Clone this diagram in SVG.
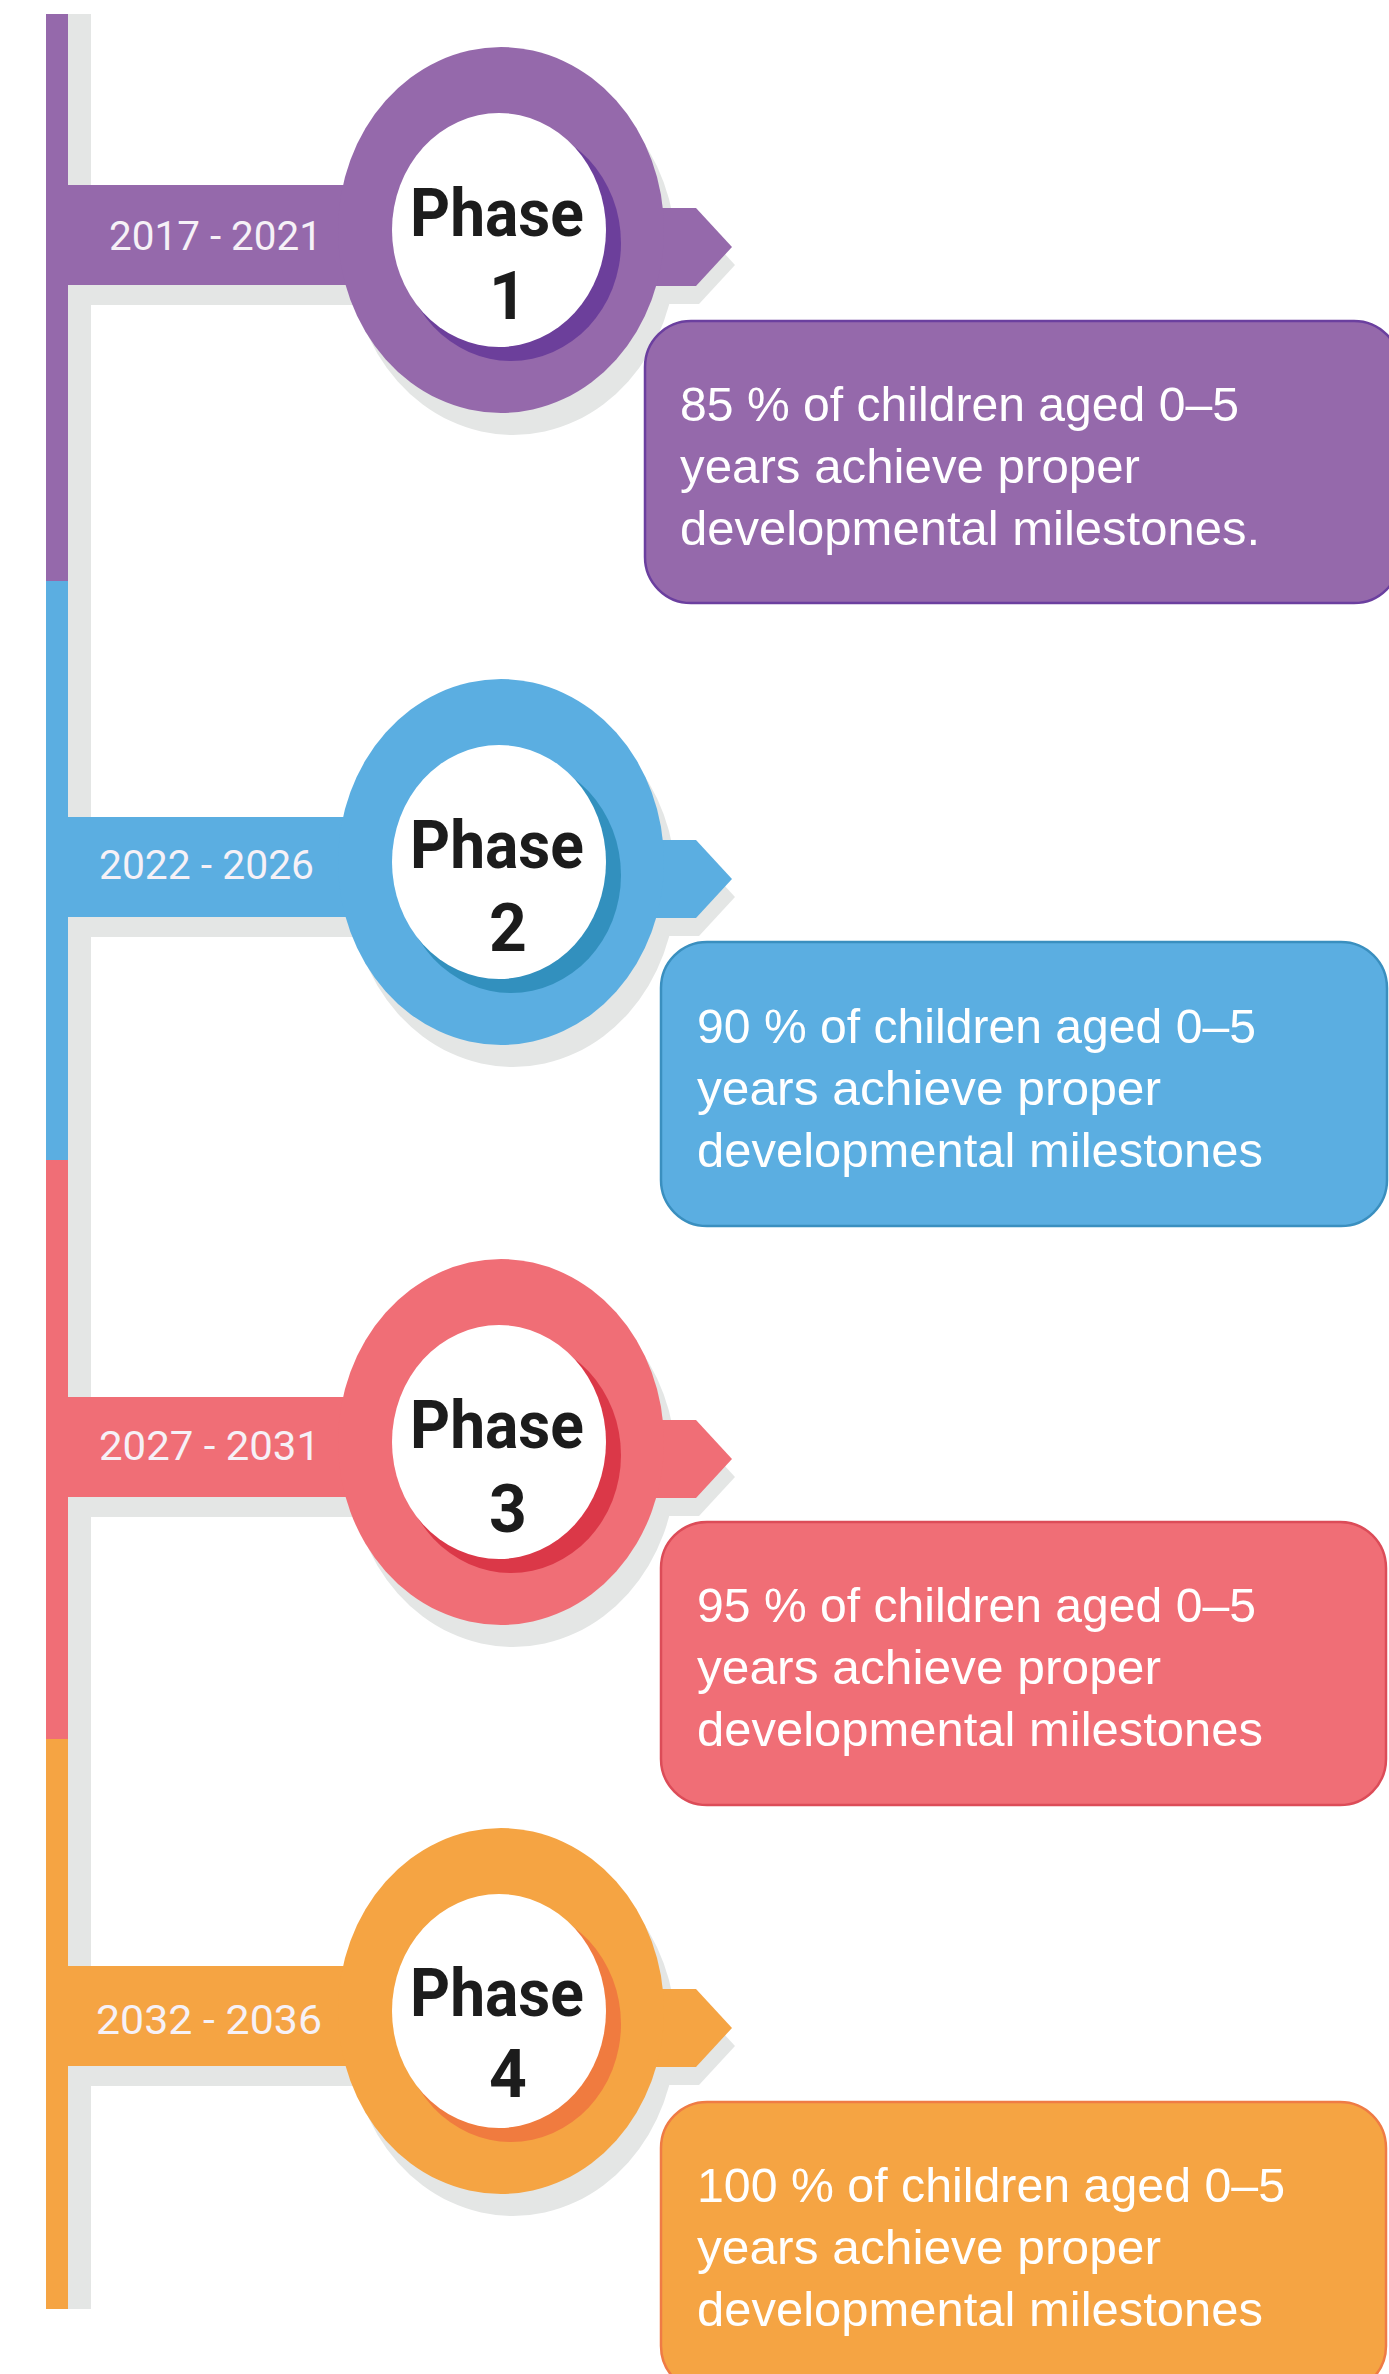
<svg xmlns="http://www.w3.org/2000/svg" width="1389" height="2374" viewBox="0 0 1389 2374">
<defs>
<style>
.shadow{fill:#e4e6e5}
.white{fill:#ffffff}
.year{font-family:Roboto,"DejaVu Sans",sans-serif;font-weight:400;font-size:41px;fill:#f6f1f7}
.phase{font-family:Roboto,"DejaVu Sans",sans-serif;font-weight:700;font-size:66px;fill:#1c1c1c;text-anchor:middle}
.box-text{font-family:"Liberation Sans",Arial,sans-serif;font-size:48px;fill:#ffffff}
.p1{fill:#9569ab}.d1{fill:#6c3f9b}
.p2{fill:#5baee1}.d2{fill:#3290be}
.p3{fill:#f06e76}.d3{fill:#db3848}
.p4{fill:#f5a443}.d4{fill:#f07b3f}
</style>
</defs>
<rect x="0" y="0" width="1389" height="2374" fill="#ffffff"/>

<g id="connectors">
<rect class="shadow" x="68" y="14" width="23" height="2295"/>
<rect class="p1" x="46" y="14" width="22" height="567"/>
<rect class="p2" x="46" y="581" width="22" height="579"/>
<rect class="p3" x="46" y="1160" width="22" height="579"/>
<rect class="p4" x="46" y="1739" width="22" height="570"/>
</g>

<g id="phase1">
<ellipse class="shadow" cx="513" cy="252" rx="163" ry="183"/>
<polygon class="shadow" points="640,226 699,226 735,265 699,304 640,304"/>
<rect class="shadow" x="87" y="285" width="290" height="20"/>
<rect class="p1" x="68" y="185" width="300" height="100"/>
<polygon class="p1" points="640,208 696,208 732,247 696,286 640,286"/>
<ellipse class="p1" cx="501" cy="230" rx="163" ry="183"/>
<ellipse class="d1" cx="511" cy="243" rx="110" ry="118"/>
<ellipse class="white" cx="499" cy="230" rx="107" ry="117"/>
<text class="year" x="109" y="250" textLength="213" lengthAdjust="spacingAndGlyphs">2017 - 2021</text>
<text class="phase" x="497" y="236" textLength="174" lengthAdjust="spacingAndGlyphs">Phase</text>
<text class="phase" x="508" y="319">1</text>
</g>

<g id="phase2">
<ellipse class="shadow" cx="513" cy="884" rx="163" ry="183"/>
<polygon class="shadow" points="640,858 699,858 735,897 699,936 640,936"/>
<rect class="shadow" x="87" y="917" width="290" height="20"/>
<rect class="p2" x="68" y="817" width="300" height="100"/>
<polygon class="p2" points="640,840 696,840 732,879 696,918 640,918"/>
<ellipse class="p2" cx="501" cy="862" rx="163" ry="183"/>
<ellipse class="d2" cx="511" cy="875" rx="110" ry="118"/>
<ellipse class="white" cx="499" cy="862" rx="107" ry="117"/>
<text class="year" x="99" y="879" textLength="215" lengthAdjust="spacingAndGlyphs">2022 - 2026</text>
<text class="phase" x="497" y="868" textLength="174" lengthAdjust="spacingAndGlyphs">Phase</text>
<text class="phase" x="508" y="951">2</text>
</g>

<g id="phase3">
<ellipse class="shadow" cx="513" cy="1464" rx="163" ry="183"/>
<polygon class="shadow" points="640,1438 699,1438 735,1477 699,1516 640,1516"/>
<rect class="shadow" x="87" y="1497" width="290" height="20"/>
<rect class="p3" x="68" y="1397" width="300" height="100"/>
<polygon class="p3" points="640,1420 696,1420 732,1459 696,1498 640,1498"/>
<ellipse class="p3" cx="501" cy="1442" rx="163" ry="183"/>
<ellipse class="d3" cx="511" cy="1455" rx="110" ry="118"/>
<ellipse class="white" cx="499" cy="1442" rx="107" ry="117"/>
<text class="year" x="99" y="1460" textLength="221" lengthAdjust="spacingAndGlyphs">2027 - 2031</text>
<text class="phase" x="497" y="1448" textLength="174" lengthAdjust="spacingAndGlyphs">Phase</text>
<text class="phase" x="508" y="1532">3</text>
</g>

<g id="phase4">
<ellipse class="shadow" cx="513" cy="2033" rx="163" ry="183"/>
<polygon class="shadow" points="640,2007 699,2007 735,2046 699,2085 640,2085"/>
<rect class="shadow" x="87" y="2066" width="290" height="20"/>
<rect class="p4" x="68" y="1966" width="300" height="100"/>
<polygon class="p4" points="640,1989 696,1989 732,2028 696,2067 640,2067"/>
<ellipse class="p4" cx="501" cy="2011" rx="163" ry="183"/>
<ellipse class="d4" cx="511" cy="2024" rx="110" ry="118"/>
<ellipse class="white" cx="499" cy="2011" rx="107" ry="117"/>
<text class="year" x="96" y="2034" textLength="226" lengthAdjust="spacingAndGlyphs">2032 - 2036</text>
<text class="phase" x="497" y="2016" textLength="174" lengthAdjust="spacingAndGlyphs">Phase</text>
<text class="phase" x="508" y="2097">4</text>
</g>

<g id="box1">
<rect x="645" y="321" width="755" height="282" rx="46" ry="46" fill="#9569ab" stroke="#6b3f9f" stroke-width="2.5"/>
<text class="box-text" x="680" y="421" textLength="559" lengthAdjust="spacingAndGlyphs">85 % of children aged 0–5</text>
<text class="box-text" x="680" y="483" textLength="460" lengthAdjust="spacingAndGlyphs">years achieve proper</text>
<text class="box-text" x="680" y="545" textLength="580" lengthAdjust="spacingAndGlyphs">developmental milestones.</text>
</g>

<g id="box2">
<rect x="661" y="942" width="726" height="284" rx="46" ry="46" fill="#5baee1" stroke="#3a8fbf" stroke-width="2.5"/>
<text class="box-text" x="697" y="1043" textLength="559" lengthAdjust="spacingAndGlyphs">90 % of children aged 0–5</text>
<text class="box-text" x="697" y="1105" textLength="464" lengthAdjust="spacingAndGlyphs">years achieve proper</text>
<text class="box-text" x="697" y="1167" textLength="566" lengthAdjust="spacingAndGlyphs">developmental milestones</text>
</g>

<g id="box3">
<rect x="661" y="1522" width="725" height="283" rx="46" ry="46" fill="#f06e76" stroke="#dc4c58" stroke-width="2.5"/>
<text class="box-text" x="697" y="1622" textLength="559" lengthAdjust="spacingAndGlyphs">95 % of children aged 0–5</text>
<text class="box-text" x="697" y="1684" textLength="464" lengthAdjust="spacingAndGlyphs">years achieve proper</text>
<text class="box-text" x="697" y="1746" textLength="566" lengthAdjust="spacingAndGlyphs">developmental milestones</text>
</g>

<g id="box4">
<rect x="661" y="2102" width="725" height="290" rx="46" ry="46" fill="#f5a443" stroke="#ef7b45" stroke-width="2.5"/>
<text class="box-text" x="697" y="2202" textLength="588" lengthAdjust="spacingAndGlyphs">100 % of children aged 0–5</text>
<text class="box-text" x="697" y="2264" textLength="464" lengthAdjust="spacingAndGlyphs">years achieve proper</text>
<text class="box-text" x="697" y="2326" textLength="566" lengthAdjust="spacingAndGlyphs">developmental milestones</text>
</g>
</svg>
